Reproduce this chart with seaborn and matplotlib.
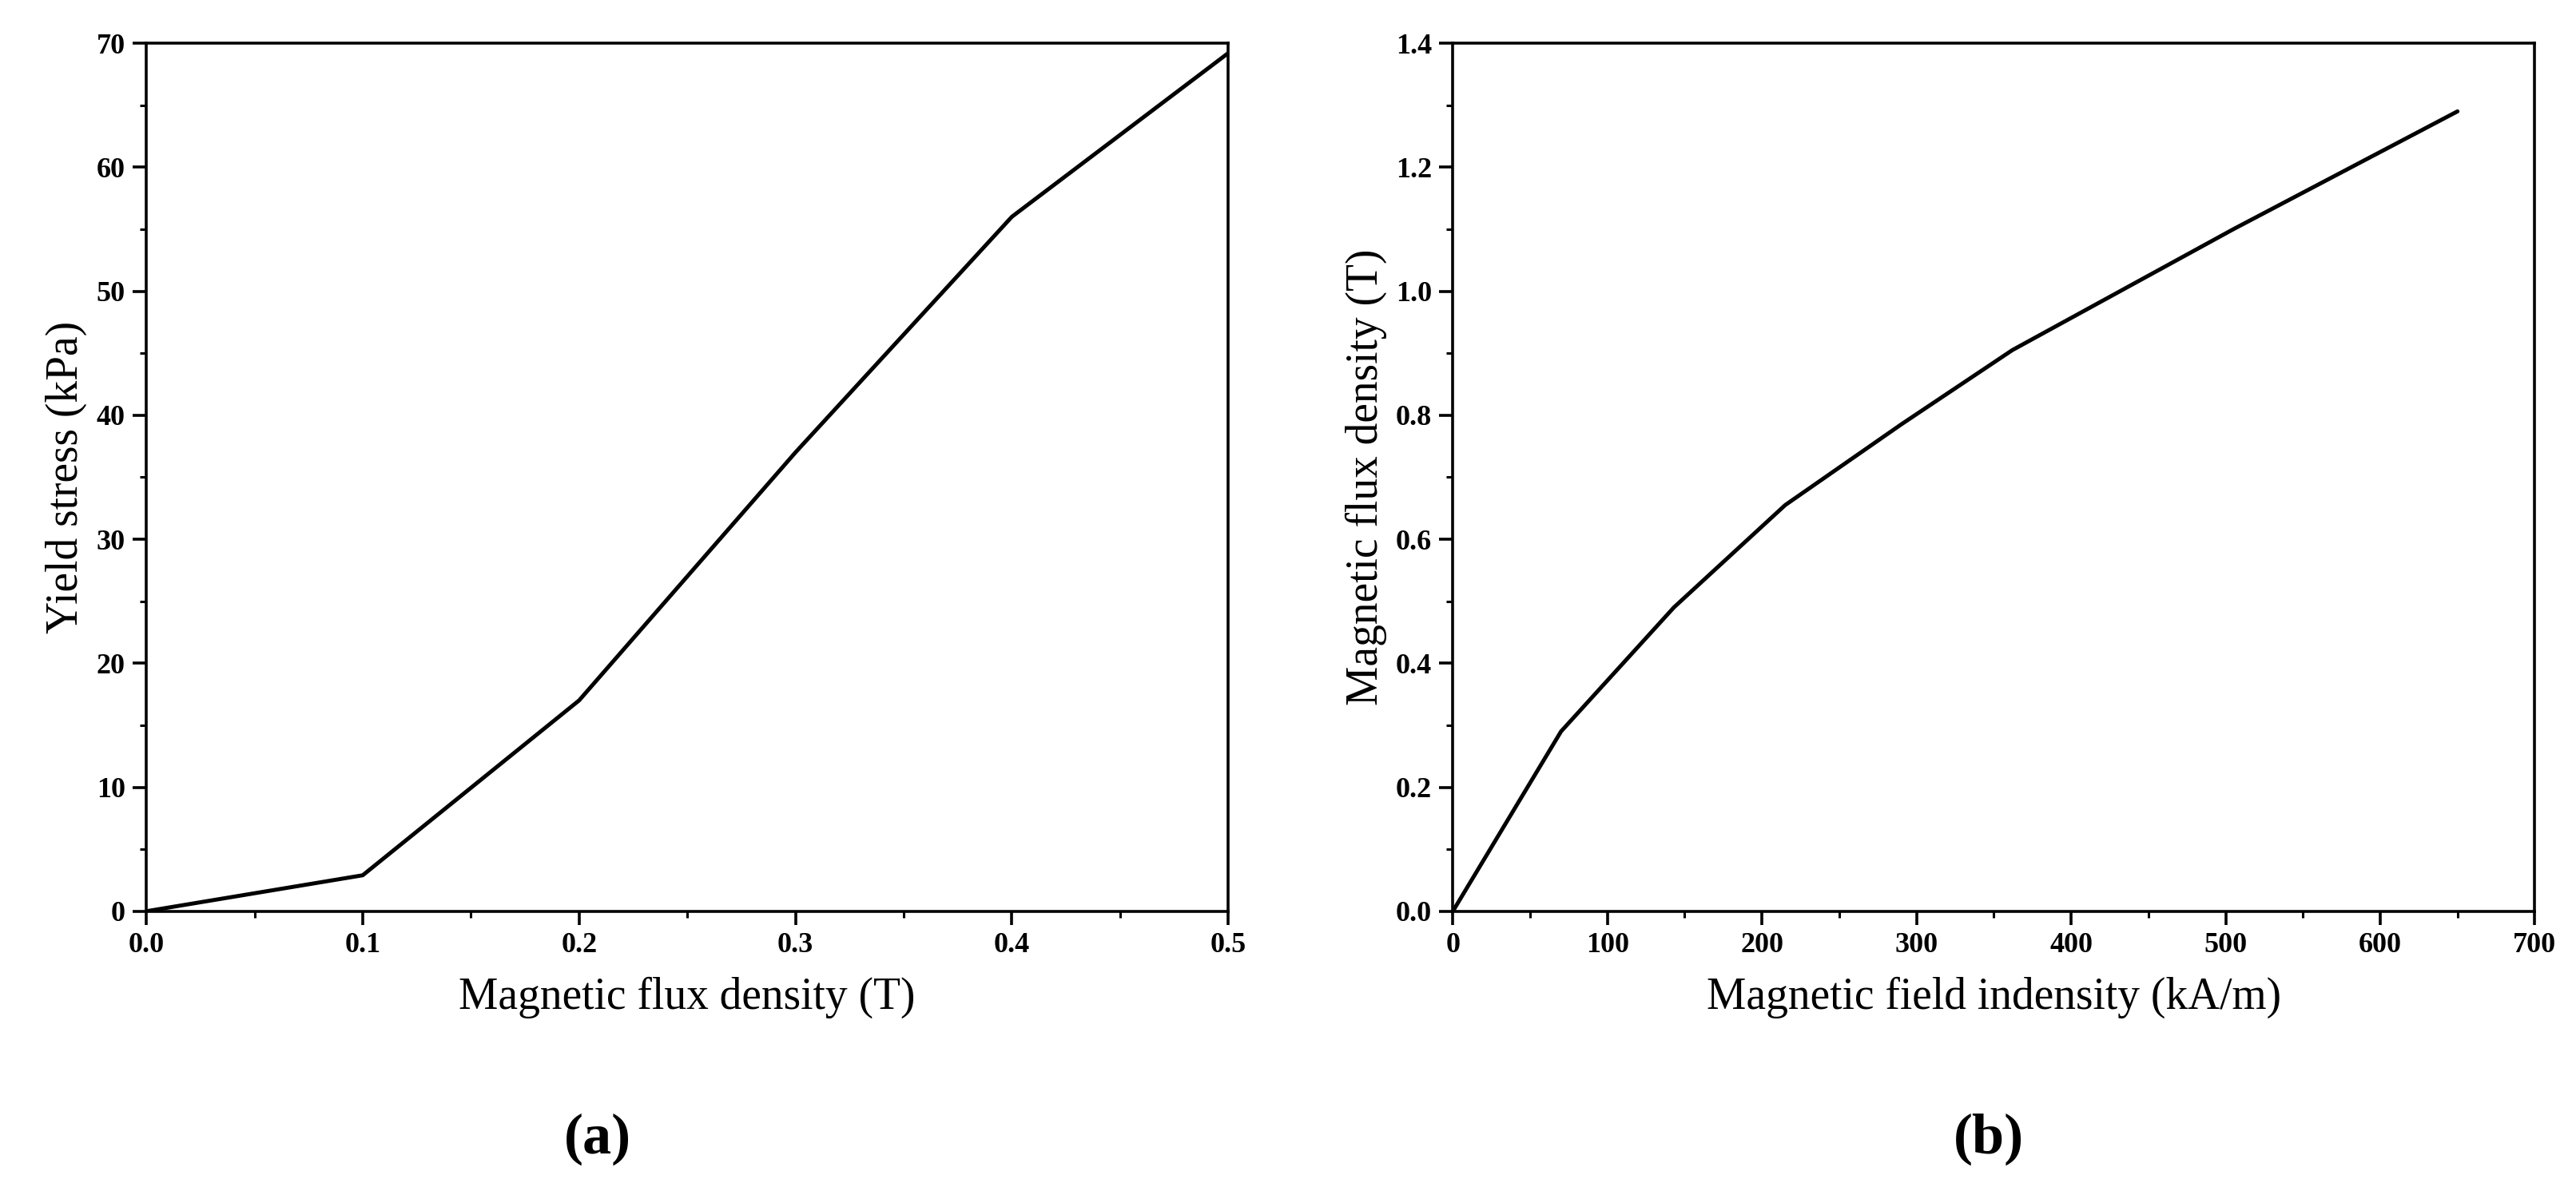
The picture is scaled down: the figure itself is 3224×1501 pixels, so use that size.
import matplotlib
matplotlib.use("Agg")
import matplotlib.pyplot as plt
import seaborn as sns
import pandas as pd
from matplotlib.ticker import MultipleLocator, AutoMinorLocator

flux_a = [0, 0.1, 0.2, 0.3, 0.4, 0.5]
stress_a = [0, 2.9, 17.0, 37.0, 56.0, 69.2]
field_b = [0, 70, 143, 215, 290, 362, 505, 650]
flux_b = [0, 0.29, 0.49, 0.655, 0.785, 0.905, 1.10, 1.29]

sns.set_theme(style="ticks")
plt.rcParams['font.family'] = ['Liberation Serif', 'DejaVu Serif']
plt.rcParams['text.color'] = 'black'
plt.rcParams['axes.labelcolor'] = 'black'
plt.rcParams['xtick.color'] = 'black'
plt.rcParams['ytick.color'] = 'black'

fig = plt.figure(figsize=(16.12, 7.505), dpi=200)
axa = fig.add_axes([0.0568, 0.240, 0.420, 0.724])
axb = fig.add_axes([0.564, 0.240, 0.420, 0.724])

sns.lineplot(data=pd.DataFrame({'x': flux_a, 'y': stress_a}), x='x', y='y', ax=axa, color='black', lw=1.8)
sns.lineplot(data=pd.DataFrame({'x': field_b, 'y': flux_b}), x='x', y='y', ax=axb, color='black', lw=1.8)

axa.set_xlim(0, 0.5); axa.set_ylim(0, 70)
axa.xaxis.set_major_locator(MultipleLocator(0.1)); axa.yaxis.set_major_locator(MultipleLocator(10))
axa.xaxis.set_major_formatter(matplotlib.ticker.FormatStrFormatter('%.1f'))
axb.set_xlim(0, 700); axb.set_ylim(0, 1.4)
axb.xaxis.set_major_locator(MultipleLocator(100)); axb.yaxis.set_major_locator(MultipleLocator(0.2))
axb.yaxis.set_major_formatter(matplotlib.ticker.FormatStrFormatter('%.1f'))

axa.set_xlabel('Magnetic flux density (T)', fontsize=20, labelpad=8)
axa.set_ylabel('Yield stress (kPa)', fontsize=20, labelpad=4)
axb.set_xlabel('Magnetic field indensity (kA/m)', fontsize=20, labelpad=8)
axb.set_ylabel('Magnetic flux density (T)', fontsize=20, labelpad=4)

for ax in (axa, axb):
    ax.xaxis.set_minor_locator(AutoMinorLocator(2))
    ax.yaxis.set_minor_locator(AutoMinorLocator(2))
    ax.tick_params(which='major', direction='out', length=6, width=1.3, labelsize=13)
    ax.tick_params(which='minor', direction='out', length=3, width=1.1)
    for lab in ax.get_xticklabels() + ax.get_yticklabels():
        lab.set_fontweight('bold')
    for s in ax.spines.values():
        s.set_linewidth(1.3); s.set_color('black')

fig.text(0.232, 0.038, '(a)', fontsize=26, fontweight='bold', ha='center')
fig.text(0.772, 0.038, '(b)', fontsize=26, fontweight='bold', ha='center')
fig.savefig('out.png')
